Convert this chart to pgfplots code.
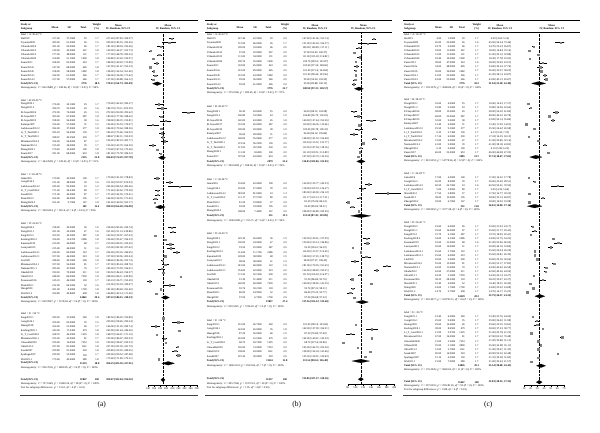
\documentclass[border=0pt]{standalone}
\usepackage{fontspec}
\setmainfont{Liberation Serif}
\usepackage{pgfplots}
\usepackage{pgfplotstable}
\pgfplotsset{compat=1.18}
\newcommand\tf{\fontsize{2.7}{3.2}\selectfont}

\pgfplotstableread{
line name mean sd n w lo hi
1 Hu2019 217.40 37.5000 59 1.7 207.83 226.97
2 Toyama2009 209.00 61.0000 26 1.5 185.55 232.45
3 Urbanski2010 181.00 50.0000 66 1.7 168.94 193.06
4 Urbanski2012 149.00 45.0000 347 1.8 144.27 153.73
5 Urbanski2013 177.00 48.0000 131 1.7 168.78 185.22
6 Urbanski2020 156.80 51.1000 1000 1.8 153.63 159.97
7 Zuure2011 168.00 62.0000 243 1.7 160.20 175.80
8 Zuure2012a 147.00 68.0000 626 1.8 141.67 152.33
9 Zuure2012b 158.00 58.0000 1082 1.8 154.54 161.46
10 Zuure2014.1 164.00 61.0000 246 1.7 156.38 171.62
11 Zuure2014.2 157.00 57.0000 246 1.7 149.88 164.12
17 Dong2020.1 176.00 34.1000 25 1.7 162.63 189.37
18 Dong2021.2 186.70 55.5000 43 1.6 170.11 203.29
19 El-Sayed2016 272.00 74.0000 45 1.5 250.38 293.62
20 El-Sayed2017 183.00 67.0000 587 1.8 177.58 188.42
21 El-Sayed2019 198.00 56.0000 38 1.6 180.19 215.81
22 Kamiya2007 156.00 57.0000 31 1.5 135.93 176.07
23 Ladokowa2012.2 184.00 37.0000 277 1.8 179.64 188.36
24 Li\_T\_Tan2020.1 185.29 56.0000 130 1.7 175.66 194.92
25 Li\_T\_Tan2020.2 188.67 49.2500 230 1.7 182.31 195.03
26 Miramura2014.2 194.00 56.0000 87 1.7 182.23 205.77
27 Numata2012.2 155.00 36.0000 39 1.7 143.70 166.30
28 Zhang2020.1 170.40 15.6000 100 1.8 167.34 173.46
29 Zuure2017 181.00 68.0000 653 1.8 175.78 186.22
35 Jama2016 170.00 45.0000 100 1.7 161.18 178.82
36 Gong2016.2 211.00 38.0000 39 1.6 199.07 222.93
37 Ladokowa2014.2 245.00 99.0000 23 1.2 204.54 285.46
38 Li\_T\_Gao2020.2 171.60 36.4300 80 1.7 163.62 179.58
39 Sasak2013 171.00 40.0000 87 1.7 162.59 179.41
40 Shen2020.2 164.00 40.0000 105 1.7 156.35 171.65
41 Zhang2020.2 161.60 9.7000 147 1.8 160.03 163.17
47 Dong2020.2 218.00 39.0000 36 1.6 205.26 230.74
48 Dong2021.1 221.00 34.5000 47 1.6 211.14 230.86
49 Fang2019.2 163.50 30.5000 287 1.8 159.97 167.03
50 Keeling2018.2 196.00 13.6700 2586 1.8 195.47 196.53
51 Kusuma2019 213.00 44.0000 48 1.7 200.55 225.45
52 Lusnyan2013 215.00 46.0000 51 1.6 202.38 227.62
53 Ladokowa2014.1 234.00 60.0000 122 1.7 223.35 244.65
54 Ladokowa2012.1 197.00 46.0000 223 1.8 190.96 203.04
55 Lin2020 188.40 49.5000 500 1.8 184.06 192.74
56 Miramura2014.1 197.00 54.0000 81 1.7 185.24 208.76
57 Numata2015.1 185.00 47.0000 70 1.7 173.99 196.01
58 Okada2012 190.50 70.0000 511 1.8 184.43 196.57
59 Okta2013.1 248.00 84.0000 7559 1.8 246.11 249.89
60 Puvanesa2016 145.10 46.5000 118 1.7 136.71 153.49
61 Shen2020.1 212.00 66.5000 52 1.6 193.93 230.07
62 Wang2020 181.00 8.4000 1700 1.8 180.60 181.40
63 Wu2021.2 166.80 49.8000 438 1.8 162.14 171.46
69 Fang2019.1 189.50 31.0000 340 1.8 186.20 192.80
70 Gong2016.1 239.00 62.0000 35 1.5 218.46 259.54
71 Huang2018 166.00 51.0000 46 1.7 151.26 180.74
72 Keeling2018.1 243.00 17.4300 479 1.8 241.44 244.56
73 Li\_T\_Gao2020.1 168.70 44.5000 1225 1.8 166.21 171.19
74 Miramura2016.1 195.00 41.0000 81 1.7 186.07 203.93
75 Olawalde2020 199.00 14.6500 7353 1.8 198.67 199.33
76 Okta2013.2 237.00 81.0000 1141 1.8 232.30 241.70
77 Sasak2007 229.80 91.0000 303 1.8 219.55 240.05
78 Spalinga2007 239.00 53.0000 150 1.7 230.52 247.48
79 Wu2021.1 175.60 45.6000 580 1.8 171.89 179.31
}\TA

\pgfplotstableread{
line name mean sd n w lo hi
1 Hu2019 147.40 22.5000 59 2.0 141.66 153.14
2 Toyama2009 131.00 66.0000 26 1.7 105.63 156.37
3 Urbanski2010 109.00 33.6000 66 2.0 100.89 117.11
4 Urbanski2012 97.00 32.0000 347 2.0 93.63 100.37
5 Urbanski2013 111.00 34.0000 131 2.0 105.18 116.82
6 Urbanski2020 100.70 35.0000 1000 2.0 98.53 102.87
7 Zuure2011 103.00 45.0000 243 2.0 97.34 108.66
8 Zuure2012a 101.00 49.0000 626 2.0 97.16 104.84
9 Zuure2012b 101.00 43.0000 1082 2.0 98.44 103.56
10 Zuure2014.1 99.00 36.0000 246 2.0 94.50 103.50
11 Zuure2014.2 95.00 41.0000 246 2.0 89.88 100.12
17 Dong2020.1 96.20 20.6000 25 2.0 88.12 104.28
18 Dong2021.2 106.80 33.5000 43 1.9 96.79 116.81
19 El-Sayed2016 140.00 43.0000 45 1.8 127.44 152.56
20 El-Sayed2017 110.00 45.0000 587 2.0 106.36 113.64
21 El-Sayed2019 109.00 29.0000 38 1.9 99.78 118.22
22 Kamiya2007 96.00 28.0000 31 1.9 86.14 105.86
23 Ladokowa2012.2 148.00 55.0000 277 2.0 141.52 154.48
24 Li\_T\_Tan2020.1 119.54 36.2500 130 2.0 113.31 125.77
25 Li\_T\_Tan2020.2 113.05 39.5300 230 2.0 107.94 118.16
26 Zhang2020.1 111.20 8.6000 100 2.0 109.51 112.89
27 Zuure2017 107.00 43.0000 653 2.0 103.70 110.30
33 Jama2016 134.00 42.0000 100 2.0 125.77 142.23
34 Gong2016.2 118.00 27.0000 39 2.0 109.53 126.47
35 Ladokowa2014.2 183.00 81.0000 23 1.3 149.90 216.10
36 Li\_T\_Gao2020.2 111.17 27.5700 80 2.0 105.13 117.21
37 Shen2020.2 81.20 19.8000 57 2.0 76.06 86.34
38 Sasak2013 92.00 33.0000 105 2.0 85.69 98.31
39 Zhang2020.2 108.00 7.4000 147 2.0 106.80 109.20
45 Dong2020.2 129.30 26.6000 36 1.9 120.61 137.99
46 Dong2021.1 130.00 24.0000 47 2.0 123.14 136.86
47 Fang2019.2 93.50 25.0000 287 2.0 90.61 96.39
48 Keeling2018.2 114.00 11.1700 2586 2.0 113.57 114.43
49 Kusuma2019 128.00 38.0000 48 1.9 117.25 138.75
50 Lusnyan2013 98.00 38.0000 51 1.9 87.57 108.43
51 Ladokowa2014.1 181.00 60.0000 122 1.9 170.35 191.65
52 Ladokowa2012.1 154.00 42.0000 223 2.0 148.49 159.51
53 Lin2020 111.50 52.1000 500 2.0 106.93 116.07
54 Okada2012 91.30 51.4000 511 2.0 86.84 95.76
55 Okta2013.1 140.00 60.0000 7559 2.0 138.65 141.35
56 Puvanesa2016 92.76 30.2100 118 2.0 87.31 98.21
57 Shen2020.1 86.00 24.9000 52 2.0 79.23 92.77
58 Wang2020 97.00 6.7000 1700 2.0 96.68 97.32
64 Fang2019.1 101.00 26.7000 340 2.0 98.16 103.84
65 Gong2016.1 142.00 45.0000 35 1.8 127.09 156.91
66 Huang2018 87.20 36.0000 46 1.9 76.80 97.60
67 Keeling2018.1 142.00 15.5500 479 2.0 140.61 143.39
68 Li\_T\_Gao2020.1 68.70 20.7000 1225 2.0 67.54 69.86
69 Olawalde2020 105.00 13.0000 7353 2.0 104.70 105.30
70 Okta2013.2 138.00 63.0000 1141 2.0 134.34 141.66
71 Sasak2007 125.30 39.0000 303 2.0 120.91 129.69
}\TB

\pgfplotstableread{
line name mean sd n w lo hi
1 Hu2019 4.90 1.0000 59 1.7 4.64 5.16
2 Toyama2009 65.00 22.0000 26 1.6 56.54 73.46
3 Urbanski2010 24.70 9.0000 66 1.7 22.53 26.87
4 Urbanski2012 18.00 11.0000 347 1.7 16.84 19.16
5 Urbanski2013 31.00 11.0000 131 1.7 29.12 32.88
6 Urbanski2020 18.40 10.0000 1000 1.7 17.78 19.02
7 Zuure2011 38.00 47.0000 243 1.6 32.09 43.91
8 Zuure2012a 34.00 48.0000 626 1.7 30.24 37.76
9 Zuure2012b 36.00 34.0000 1082 1.7 33.97 38.03
10 Zuure2014.1 41.00 23.0000 246 1.7 38.13 43.87
11 Zuure2014.2 43.00 23.0000 246 1.7 40.13 45.87
17 Dong2020.1 16.00 4.0000 25 1.7 14.43 17.57
18 Dong2021.2 19.80 9.5000 43 1.7 16.96 22.64
19 El-Sayed2016 58.00 13.0000 45 1.7 54.20 61.80
20 El-Sayed2017 48.00 22.0000 587 1.7 46.22 49.78
21 El-Sayed2019 53.00 9.0000 38 1.7 50.14 55.86
22 Kamiya2007 13.40 4.0000 31 1.7 11.99 14.81
23 Ladokowa2012.2 25.50 9.2000 277 1.7 24.42 26.58
24 Li\_T\_Tan2020.1 6.33 5.7400 130 1.7 5.34 7.32
25 Li\_T\_Tan2020.2 17.24 6.9000 230 1.7 16.35 18.13
26 Miramura2014.2 31.00 4.0000 47 1.7 29.86 32.14
27 Numata2012.2 41.00 9.0000 39 1.7 38.18 43.82
28 Zhang2020.1 6.10 0.6000 100 1.7 5.98 6.22
29 Zuure2017 46.00 25.0000 653 1.7 44.08 47.92
35 Jama2016 17.00 4.0000 100 1.7 16.22 17.78
36 Gong2016.2 26.00 8.0000 39 1.7 23.49 28.51
37 Ladokowa2014.2 60.50 24.7000 23 1.6 50.41 70.59
38 Li\_T\_Gao2020.2 5.00 3.0000 80 1.7 4.34 5.66
39 Shen2020.2 17.50 2.8000 57 1.7 16.77 18.23
40 Sasak2013 38.00 15.0000 105 1.7 35.13 40.87
41 Zhang2020.2 18.00 6.7000 147 1.7 16.92 19.08
47 Dong2020.2 22.60 6.0000 56 1.7 21.03 24.17
48 Dong2021.1 25.60 16.0000 67 1.7 21.77 29.43
49 Fang2019.2 19.70 6.1000 287 1.7 18.99 20.41
50 Keeling2018.2 54.00 6.5300 2586 1.7 53.75 54.25
51 Kusuma2019 61.00 21.0000 48 1.6 55.06 66.94
52 Lusnyan2013 50.00 14.0000 51 1.7 46.16 53.84
53 Ladokowa2014.1 25.60 3.7000 122 1.7 24.94 26.26
54 Ladokowa2012.1 25.60 6.0000 223 1.7 24.81 26.39
55 Lin2020 29.60 5.0000 500 1.7 29.16 30.04
56 Miramura2014.1 55.00 13.0000 81 1.7 52.17 57.83
57 Numata2015.1 43.00 11.0000 70 1.7 40.42 45.58
58 Okada2012 42.60 27.0000 511 1.7 40.26 44.94
59 Okta2013.1 24.20 3.2000 7559 1.7 24.13 24.27
60 Puvanesa2016 38.22 28.5200 118 1.7 33.07 43.37
61 Shen2020.1 19.40 4.0000 52 1.7 18.31 20.49
62 Wang2020 24.00 1.7000 1700 1.7 23.92 24.08
63 Wu2021.2 14.70 5.7000 438 1.7 14.17 15.23
69 Fang2019.1 23.40 6.0000 340 1.7 22.76 24.04
70 Gong2016.1 29.00 9.0000 35 1.7 26.02 31.98
71 Huang2018 29.60 14.0000 46 1.7 25.55 33.65
72 Keeling2018.1 38.00 8.6500 479 1.7 37.23 38.77
73 Li\_T\_Gao2020.1 21.00 3.9700 1225 1.7 20.78 21.22
74 Miramura2016.1 67.00 16.0000 81 1.7 63.52 70.48
75 Olawalde2020 31.00 5.2000 7353 1.7 30.88 31.12
76 Offanu2020 35.00 3.1000 2800 1.7 34.89 35.11
77 Okta2013.2 31.00 5.7000 1141 1.7 30.67 31.33
78 Sasak2007 60.90 14.0000 303 1.7 59.32 62.48
79 Spalinga2007 31.10 4.5000 150 1.7 30.38 31.82
80 Wu2021.1 21.00 7.0000 580 1.7 20.43 21.57
}\TC

% --- helpers (use \cName \cMean \cSD \cN \cW \cCI and \Y set per panel)
\newcommand\studyrows[1]{%
  \pgfplotstablegetrowsof{#1}\pgfmathtruncatemacro\nrows{\pgfplotsretval-1}%
  \foreach \i in {0,...,\nrows}{%
    \pgfplotstablegetelem{\i}{line}\of#1\let\LL\pgfplotsretval
    \pgfplotstablegetelem{\i}{name}\of#1\let\nm\pgfplotsretval
    \pgfplotstablegetelem{\i}{mean}\of#1\let\mn\pgfplotsretval
    \pgfplotstablegetelem{\i}{sd}\of#1\let\sdv\pgfplotsretval
    \pgfplotstablegetelem{\i}{n}\of#1\let\nn\pgfplotsretval
    \pgfplotstablegetelem{\i}{w}\of#1\let\ww\pgfplotsretval
    \pgfplotstablegetelem{\i}{lo}\of#1\let\vlo\pgfplotsretval
    \pgfplotstablegetelem{\i}{hi}\of#1\let\vhi\pgfplotsretval
    \node[anchor=west] at (\cName,{\Y{\LL}}) {\nm};
    \node[anchor=east] at (\cMean,{\Y{\LL}}) {\mn};
    \node[anchor=east] at (\cSD,{\Y{\LL}}) {\sdv};
    \node[anchor=east] at (\cN,{\Y{\LL}}) {\nn};
    \node at (\cW,{\Y{\LL}}) {\ww};
    \node at (\cCI,{\Y{\LL}}) {\mn\ [\vlo; \vhi]};
  }}
\newcommand\glabel[2]{\node[anchor=west] at (\cName,{\Y{#1}}) {label = #2};}
\newcommand\totalrow[4]{%
  \node[anchor=west,font=\tf\bfseries] at (\cName,{\Y{#1}}) {Total (95\% CI)};
  \node[anchor=east,font=\tf\bfseries] at (\cN,{\Y{#1}}) {#2};
  \node[font=\tf\bfseries] at (\cW,{\Y{#1}}) {#3};
  \node[font=\tf\bfseries] at (\cCI,{\Y{#1}}) {#4};}
\newcommand\het[6]{\node[anchor=west] at (\cName,{\Y{#1}}) {Heterogeneity: \textit{τ}² = #2; \textit{χ}² = #3, \textit{df} = #4 (\textit{P} #5); \textit{I}² = #6\%};}
\newcommand\testrow[2]{\node[anchor=west] at (\cName,{\Y{#1}}) {Test for subgroup differences: #2};}
% header: name mean sd total weight ci right ; rules: x1 x2
\newcommand\header[9]{%
  \node[anchor=west,font=\tf\bfseries] at (#1,-25.3) {Study or};
  \node[anchor=west,font=\tf\bfseries] at (#1,-29) {Subgroup};
  \node[font=\tf\bfseries] at (#2,-27.2) {Mean};
  \node[font=\tf\bfseries] at (#3,-27.2) {SD};
  \node[font=\tf\bfseries] at (#4,-27.2) {Total};
  \node[font=\tf\bfseries] at (#5,-25.3) {Weight};
  \node[font=\tf\bfseries] at (#5,-29) {(\%)};
  \node[font=\tf\bfseries] at (#6,-25.3) {Mean};
  \node[font=\tf\bfseries] at (#6,-29) {IV, Random, 95\% CI};
  \node[font=\tf\bfseries] at (#7,-25.3) {Mean};
  \node[font=\tf\bfseries] at (#7,-29) {IV, Random, 95\% CI};
  \draw[line width=0.8pt] (#8,-20.7) -- (#9,-20.7);
  \draw[line width=0.3pt] (#8,-31.7) -- (#9,-31.7);
  \draw[line width=1pt, black!75] (#8,-395.7) -- (#9,-395.7);}

\pgfplotsset{forest/.style={scale only axis, anchor=south west,
  axis x line*=bottom, axis y line=none, x axis line style={-, line width=0.3pt},
  tick align=outside, major tick length=1.5pt, xtick style={line width=0.3pt, black},
  ticklabel style={font=\tf, inner sep=0.6pt},
  /pgf/number format/assume math mode=true, clip=false}}
\pgfplotsset{studyplot/.style={only marks, mark=square*, mark size=0.7pt,
  mark options={fill=gray, draw=gray},
  error bars/.cd, x dir=both, x explicit, error mark=none,
  error bar style={black, line width=0.35pt}}}
\pgfplotsset{diam/.style={fill=black, draw=black, line width=0.1pt}}

\begin{document}
\begin{tikzpicture}[x=1pt,y=1pt, every node/.style={inner sep=0pt, font=\tf}]
\useasboundingbox (0,0) rectangle (600,-433);

% ================= panel (a) =================
\def\Y#1{-(34.3+(#1)*4.113)}
\def\cName{20.7}\def\cMean{60}\def\cSD{75.5}\def\cN{87}\def\cW{97}\def\cCI{119.5}
\header{20.7}{55}{69.3}{83.3}{96.7}{118.3}{168}{20}{198}
\glabel{0}{A: 30-32 °C}
\totalrow{12}{3776}{18.9}{170.11 [154.73; 185.49]}
\het{13}{692.2688}{238.46}{10}{< 0.01}{96}
\glabel{16}{B: 28-30 °C}
\totalrow{30}{2155}{21.8}{186.03 [174.29; 197.78]}
\het{31}{364.2558}{128.43}{12}{< 0.01}{91}
\glabel{34}{C: 26-28 °C}
\totalrow{42}{581}{11.4}{180.59 [164.28; 196.90]}
\het{43}{338.6334}{58.16}{6}{< 0.01}{90}
\glabel{46}{D: 24-26 °C}
\totalrow{64}{14061}{29.6}{197.22 [184.11; 210.33]}
\het{65}{629.9997}{5178.04}{16}{= 0}{100}
\glabel{68}{E: <26 °C}
\totalrow{80}{11533}{18.8}{206.25 [185.50; 227.01]}
\het{81}{936.7016}{6830.95}{10}{= 0}{100}
\totalrow{84}{31847}{100}{189.07 [182.04; 196.10]}
\het{85}{727.6160}{15483.34}{58}{= 0}{100}
\testrow{86}{\textit{χ}² = 13.61, \textit{df} = 4 (\textit{P} < 0.01)}
\studyrows{\TA}
\node[font=\fontsize{7.5}{9}\selectfont] at (101.7,-405) {(a)};

\begin{axis}[forest, at={(148pt,-385pt)}, width=48.7pt, height=354.8pt,
  xmin=140, xmax=300, ymin=-85.27, ymax=1, xtick={140,160,...,300}]
\addplot[densely dotted, line width=0.35pt] coordinates {(189.07,0.5) (189.07,-85.27)};
\addplot[studyplot] table[x=mean, y expr=-\thisrow{line},
  x error plus expr=\thisrow{hi}-\thisrow{mean},
  x error minus expr=\thisrow{mean}-\thisrow{lo}] {\TA};
\addplot[diam] coordinates {(154.73,-12) (170.11,-11.55) (185.49,-12) (170.11,-12.45)} -- cycle;
\addplot[diam] coordinates {(174.29,-30) (186.03,-29.55) (197.78,-30) (186.03,-30.45)} -- cycle;
\addplot[diam] coordinates {(164.28,-42) (180.59,-41.55) (196.90,-42) (180.59,-42.45)} -- cycle;
\addplot[diam] coordinates {(184.11,-64) (197.22,-63.55) (210.33,-64) (197.22,-64.45)} -- cycle;
\addplot[diam] coordinates {(185.50,-80) (206.25,-79.55) (227.01,-80) (206.25,-80.45)} -- cycle;
\addplot[diam] coordinates {(182.04,-84) (189.07,-83.55) (196.10,-84) (189.07,-84.45)} -- cycle;
\end{axis}

% ================= panel (b) =================
\def\Y#1{-(34.3+(#1)*4.538)}
\def\cName{206.7}\def\cMean{245.5}\def\cSD{262}\def\cN{273}\def\cW{285}\def\cCI{315.5}
\header{206.7}{240}{255}{268.3}{285}{315}{363.3}{205}{392}
\glabel{0}{A: 30-32 °C}
\totalrow{12}{3776}{21.7}{108.90 [97.23; 120.57]}
\het{13}{379.0166}{289.45}{10}{< 0.01}{97}
\glabel{16}{B: 28-30 °C}
\totalrow{28}{2079}{21.6}{114.05 [103.06; 125.05]}
\het{29}{290.6458}{188.26}{10}{< 0.01}{95}
\glabel{32}{C: 26-28 °C}
\totalrow{40}{551}{13.3}{113.58 [87.28; 139.89]}
\het{41}{1206.0208}{155.71}{6}{< 0.01}{96}
\glabel{44}{D: 24-26 °C}
\totalrow{59}{13827}{27.4}{117.36 [101.32; 133.40]}
\het{60}{930.5421}{7226.03}{13}{= 0}{100}
\glabel{63}{E: <26 °C}
\totalrow{72}{11124}{15.8}{113.54 [90.61; 136.48]}
\het{73}{1060.5101}{8123.66}{7}{= 0}{100}
\totalrow{76}{31357}{100}{113.86 [107.17; 120.56]}
\het{77}{495.7566}{19172.61}{50}{= 0}{100}
\testrow{78}{\textit{χ}² = 1.05, \textit{df} = 4 (\textit{P} = 0.90)}
\studyrows{\TB}
\node[font=\fontsize{7.5}{9}\selectfont] at (296.7,-405) {(b)};

\begin{axis}[forest, at={(347.7pt,-384pt)}, width=46.6pt, height=354.2pt,
  xmin=80, xmax=200, ymin=-77.06, ymax=1, xtick={80,100,...,200}]
\addplot[densely dotted, line width=0.35pt] coordinates {(113.86,0.5) (113.86,-77.06)};
\addplot[studyplot] table[x=mean, y expr=-\thisrow{line},
  x error plus expr=\thisrow{hi}-\thisrow{mean},
  x error minus expr=\thisrow{mean}-\thisrow{lo}] {\TB};
\addplot[diam] coordinates {(97.23,-12) (108.90,-11.6) (120.57,-12) (108.90,-12.4)} -- cycle;
\addplot[diam] coordinates {(103.06,-28) (114.05,-27.6) (125.05,-28) (114.05,-28.4)} -- cycle;
\addplot[diam] coordinates {(87.28,-40) (113.58,-39.6) (139.89,-40) (113.58,-40.4)} -- cycle;
\addplot[diam] coordinates {(101.32,-59) (117.36,-58.6) (133.40,-59) (117.36,-59.4)} -- cycle;
\addplot[diam] coordinates {(90.61,-72) (113.54,-71.6) (136.48,-72) (113.54,-72.4)} -- cycle;
\addplot[diam] coordinates {(107.17,-76) (113.86,-75.6) (120.56,-76) (113.86,-76.4)} -- cycle;
\end{axis}

% ================= panel (c) =================
\def\Y#1{-(34.3+(#1)*4.092)}
\def\cName{404}\def\cMean{441.5}\def\cSD{455.5}\def\cN{465}\def\cW{476.7}\def\cCI{500}
\header{404}{438.3}{451.7}{461.7}{476.7}{500}{551.7}{403}{580}
\glabel{0}{A: 30-32 °C}
\totalrow{12}{3776}{18.2}{31.94 [21.38; 42.49]}
\het{13}{159.2376}{4568.84}{10}{= 0}{100}
\glabel{16}{B: 28-30 °C}
\totalrow{30}{2085}{21.7}{27.74 [18.47; 37.01]}
\het{31}{281.5553}{14778.26}{12}{= 0}{100}
\glabel{34}{C: 26-28 °C}
\totalrow{42}{551}{11.8}{26.02 [14.90; 37.14]}
\het{43}{108.9052}{1977.38}{6}{= 0}{100}
\glabel{46}{D: 24-26 °C}
\totalrow{64}{14229}{28.3}{33.79 [26.37; 41.21]}
\het{65}{205.4917}{100793.11}{16}{= 0}{100}
\glabel{68}{E: <26 °C}
\totalrow{81}{14826}{20.1}{35.54 [28.68; 42.41]}
\het{82}{176.2026}{5840.65}{11}{= 0}{100}
\totalrow{85}{35467}{100}{32.83 [28.33; 37.33]}
\het{86}{297.0216}{295181.45}{59}{= 0}{100}
\testrow{87}{\textit{χ}² = 0.88, \textit{df} = 4 (\textit{P} = 0.93)}
\studyrows{\TC}
\node[font=\fontsize{7.5}{9}\selectfont] at (488.3,-405) {(c)};

\begin{axis}[forest, at={(524pt,-385pt)}, width=40pt, height=354.8pt,
  xmin=10, xmax=70, ymin=-85.70, ymax=1, xtick={10,20,...,70}, clip=true]
\addplot[densely dotted, line width=0.35pt] coordinates {(32.83,0.5) (32.83,-85.70)};
\addplot[studyplot] table[x=mean, y expr=-\thisrow{line},
  x error plus expr=\thisrow{hi}-\thisrow{mean},
  x error minus expr=\thisrow{mean}-\thisrow{lo}] {\TC};
\addplot[diam] coordinates {(21.38,-12) (31.94,-11.55) (42.49,-12) (31.94,-12.45)} -- cycle;
\addplot[diam] coordinates {(18.47,-30) (27.74,-29.55) (37.01,-30) (27.74,-30.45)} -- cycle;
\addplot[diam] coordinates {(14.90,-42) (26.02,-41.55) (37.14,-42) (26.02,-42.45)} -- cycle;
\addplot[diam] coordinates {(26.37,-64) (33.79,-63.55) (41.21,-64) (33.79,-64.45)} -- cycle;
\addplot[diam] coordinates {(28.68,-81) (35.54,-80.55) (42.41,-81) (35.54,-81.45)} -- cycle;
\addplot[diam] coordinates {(28.33,-85) (32.83,-84.55) (37.33,-85) (32.83,-85.45)} -- cycle;
\end{axis}
\end{tikzpicture}
\end{document}
